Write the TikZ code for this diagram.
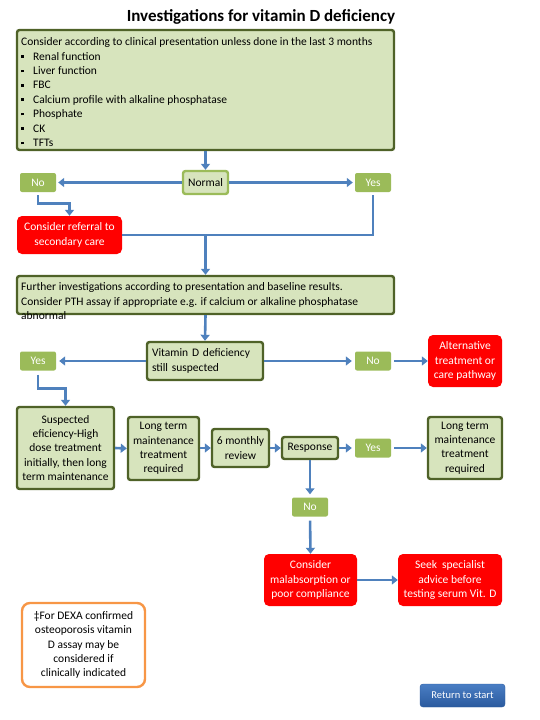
\documentclass[tikz,border=0pt]{standalone}
\usepackage{fontspec}
\setmainfont{Carlito}
\usetikzlibrary{arrows.meta}
\definecolor{gfill}{HTML}{D7E4BD}
\definecolor{gdraw}{HTML}{4F6228}
\definecolor{lgreen}{HTML}{9BBB59}
\definecolor{arrblue}{HTML}{4F81BD}
\definecolor{orng}{HTML}{F79646}
\definecolor{rettop}{HTML}{4A7EC4}
\definecolor{retbot}{HTML}{2A5A9E}
\newcommand{\bul}{\makebox[12pt][l]{\raisebox{2.2pt}{\rule{2.6pt}{2.6pt}}}}
\begin{document}
\begin{tikzpicture}[x=1pt,y=-1pt,
  every node/.style={font=\fontsize{11.5}{14.3}\selectfont, inner sep=0pt},
  gbox/.style={draw=gdraw, fill=gfill, line width=2.4pt, rounded corners=2.5pt},
  sbox/.style={gbox, align=center},
  lbl/.style={fill=lgreen, text=white, rounded corners=2pt, minimum width=36pt, minimum height=19pt},
  rbox/.style={fill=red, text=white, rounded corners=5pt, align=center},
  arr/.style={draw=arrblue, line width=2.6pt, -{Triangle[length=6pt,width=9pt]}},
  ln/.style={draw=arrblue, line width=2.6pt}]

\useasboundingbox (0,0) rectangle (540,720);

\node[font=\fontsize{17}{19}\selectfont\bfseries] (title) at (261,17) {Investigations for vitamin D deficiency};

% Box 1
\node[gbox, minimum width=377pt, minimum height=120pt] (b1) at (205.5,90) {};
\node[anchor=north west, align=left, font=\fontsize{11.5}{14.4}\selectfont] (b1t) at (21,37.5) {%
Consider according to clinical presentation unless done in the last 3 months\\
\bul Renal function\\
\bul Liver function\\
\bul FBC\\
\bul Calcium profile with alkaline phosphatase\\
\bul Phosphate\\
\bul CK\\
\bul TFTs};

\node[draw=lgreen, fill=gfill, line width=2.4pt, rounded corners=2.5pt, minimum width=45pt, minimum height=23pt] (normal) at (205.5,182.5) {Normal};
\node[lbl] (no1) at (38,182.5) {No};
\node[lbl] (yes1) at (373,182.5) {Yes};

\node[rbox, minimum width=105pt, minimum height=38pt] (referral) at (69.5,235) {Consider referral to\\secondary care};

% Box 2
\node[gbox, minimum width=377pt, minimum height=38pt] (b2) at (205.5,295) {};
\node[anchor=north west, align=left, font=\fontsize{11.5}{14.5}\selectfont] (b2t) at (21,282.5) {%
Further investigations according to presentation and baseline results.\\
Consider PTH assay if appropriate e.g. if calcium or alkaline phosphatase\\
abnormal};

\node[gbox, text width=106pt, inner xsep=5pt, minimum height=38pt, align=left] (vitd) at (205,361) {Vitamin D deficiency\\still suspected};
\node[lbl] (yes2) at (38,361) {Yes};
\node[lbl] (no2) at (373,361) {No};
\node[rbox, minimum width=74pt, minimum height=52pt] (alt) at (465,361) {Alternative\\treatment or\\care pathway};

\node[sbox, minimum width=97pt, minimum height=82pt] (susp) at (65.5,448) {Suspected\\eficiency-High\\dose treatment\\initially, then long\\term maintenance};
\node[sbox, minimum width=71pt, minimum height=63pt] (lt1) at (163.5,448.5) {Long term\\maintenance\\treatment\\required};
\node[sbox, minimum width=57pt, minimum height=38pt] (six) at (240.5,448) {6 monthly\\review};
\node[sbox, minimum width=56pt, minimum height=22pt] (resp) at (310,448) {Response};
\node[lbl] (yes3) at (373,448) {Yes};
\node[sbox, minimum width=74pt, minimum height=62pt] (lt2) at (465,448) {Long term\\maintenance\\treatment\\required};

\node[lbl] (no3) at (310,507) {No};
\node[rbox, minimum width=93pt, minimum height=52pt] (mal) at (310.5,580) {Consider\\malabsorption or\\poor compliance};
\node[rbox, minimum width=104pt, minimum height=52pt] (seek) at (450,580) {Seek\ \ specialist\\advice before\\testing serum Vit. D};

\node[draw=orng, fill=white, line width=2.4pt, rounded corners=8pt, minimum width=123pt, minimum height=84pt, align=center] (foot) at (83.5,645) {‡For DEXA confirmed\\osteoporosis vitamin\\D assay may be\\considered if\\clinically indicated};

\node[top color=rettop, bottom color=retbot, draw=retbot, text=white, rounded corners=3pt, minimum width=85pt, minimum height=23pt, font=\fontsize{10.5}{12}\selectfont] (ret) at (462.5,695.5) {Return to start};

% Connectors
\draw[arr] (b1.south) -- (normal.north);
\draw[arr, shorten >=2pt] (normal.west) -- (no1.east);
\draw[arr, shorten >=2pt] (normal.east) -- (yes1.west);
\draw[arr] ([yshift=-3pt]no1.south) -- ++(0,8) -| (referral.north);
\draw[ln] ([yshift=-3pt]yes1.south) |- (referral.east);
\draw[arr] (referral.east -| normal.south) -- (b2.north);
\draw[arr] (b2.south) -- (vitd.north);
\draw[arr, shorten >=3pt] (vitd.west) -- (yes2.east);
\draw[arr, shorten >=3pt] (vitd.east) -- (no2.west);
\draw[arr, shorten <=3pt] (no2.east) -- (alt.west);
\draw[arr] ([yshift=-4pt]yes2.south) -- ++(0,14) -| (susp.north);
\draw[arr] (susp.east) -- (lt1.west);
\draw[arr] (lt1.east |- six.west) -- (six.west);
\draw[arr] (six.east) -- (resp.west);
\draw[arr, shorten >=3pt] (resp.east) -- (yes3.west);
\draw[arr, shorten <=3pt] (yes3.east) -- (lt2.west);
\draw[arr, shorten >=3pt] (resp.south) -- (no3.north);
\draw[arr, shorten <=4pt] (no3.south) -- (mal.north);
\draw[arr] (mal.east) -- (seek.west);
\end{tikzpicture}
\end{document}
